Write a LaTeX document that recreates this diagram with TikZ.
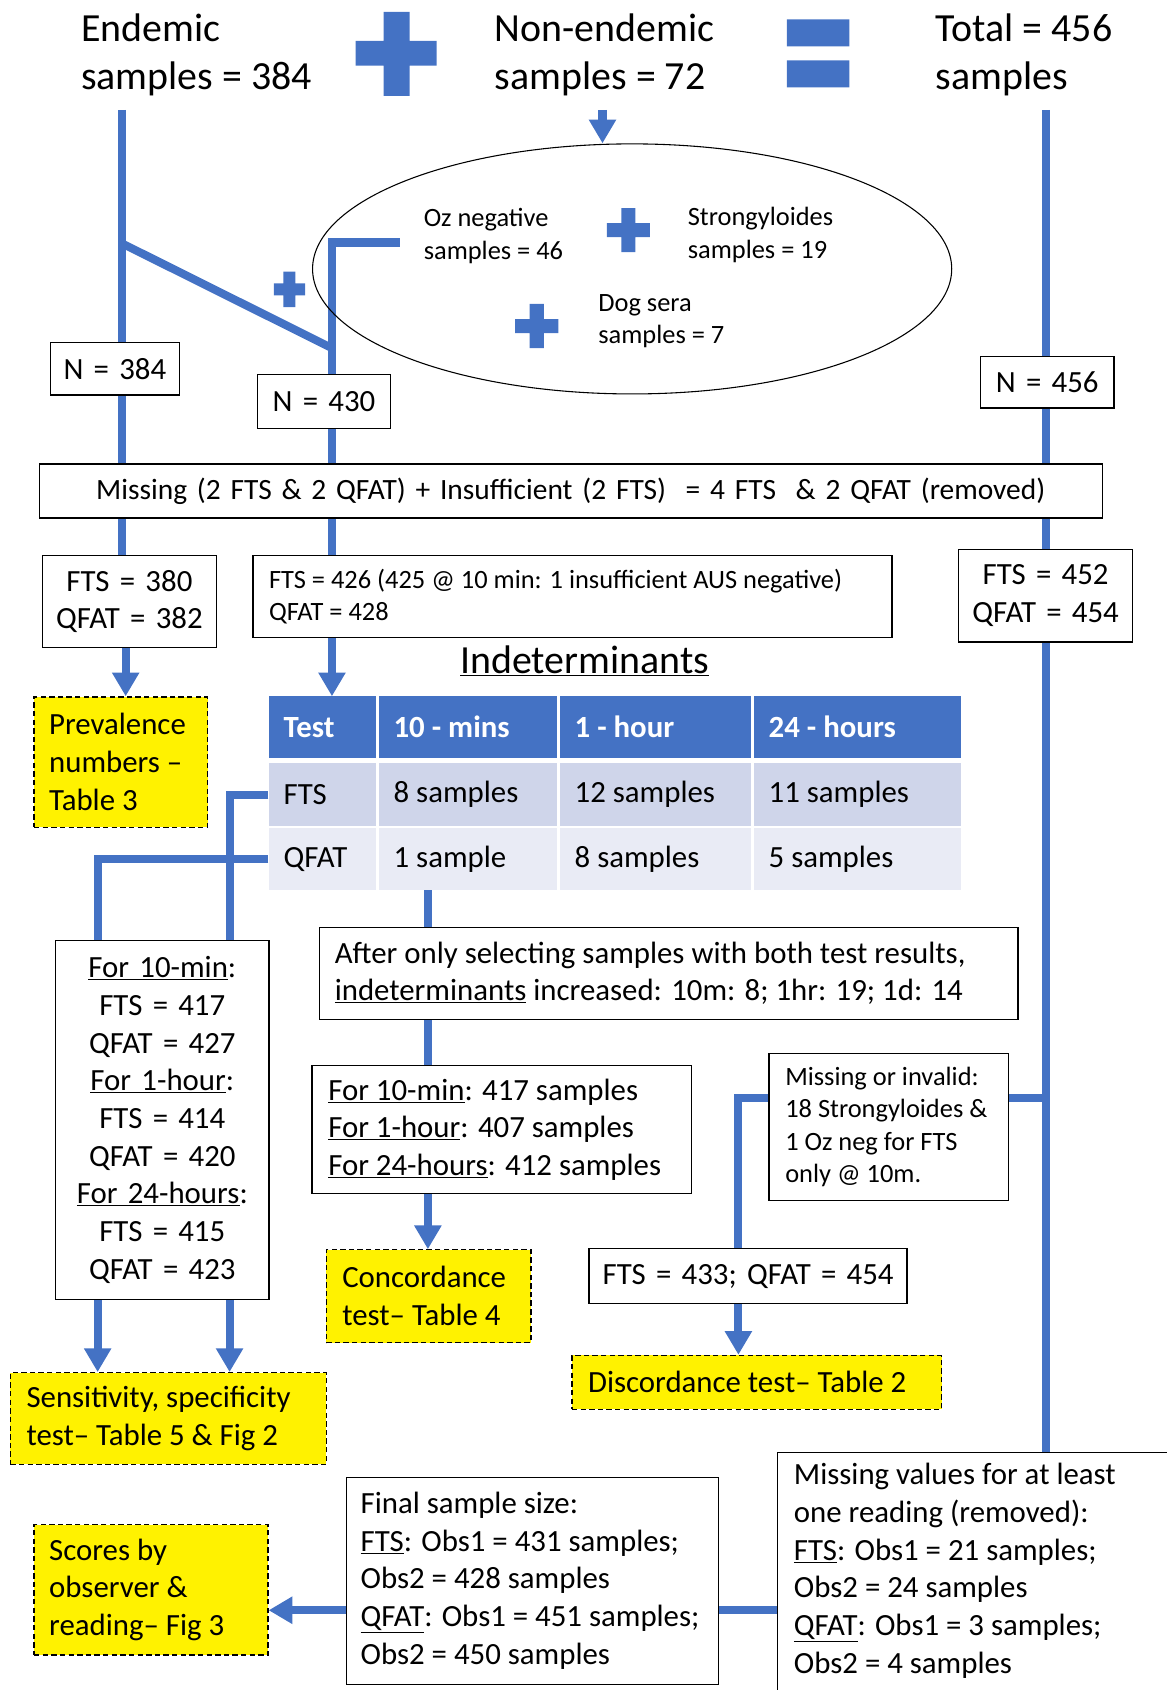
\documentclass[tikz,border=0pt]{standalone}
\usepackage{fontspec}
\setmainfont{Carlito}
\usetikzlibrary{arrows.meta,shapes.geometric,backgrounds}

\definecolor{linkblue}{RGB}{68,114,196}
\definecolor{rowdark}{RGB}{207,213,234}
\definecolor{rowlight}{RGB}{233,235,245}

\newcommand{\hdfont}{\fontsize{37}{45}\selectfont}
\newcommand{\txfont}{\fontsize{28.6}{35}\selectfont}
\newcommand{\smfont}{\fontsize{24.5}{30}\selectfont}

\tikzset{
  link/.style={draw=linkblue, line width=7.5pt},
  arr/.style={link, ->},
  box/.style={draw=black, line width=1.2pt, fill=white, anchor=north west,
    inner xsep=8pt, inner ysep=0pt, align=center},
  note/.style={box, align=flush left},
  result/.style={note, fill=yellow, dash pattern=on 5pt off 3pt},
  plain/.style={anchor=west, inner sep=0pt, align=left},
  cell/.style={anchor=north west, inner xsep=14pt, inner ysep=0pt,
    align=flush left, minimum height=58pt},
  headcell/.style={cell, fill=linkblue, text=white, font=\txfont\bfseries,
    minimum height=57pt},
}

\begin{document}
\begin{tikzpicture}[x=1pt, y=-1pt, font=\txfont, line join=miter, >={Triangle[width=24pt,length=22pt]}]
	\useasboundingbox (0,0) rectangle (1082,1568);
	% top line
	\node[plain, font=\hdfont] (endem) at (75,51) {Endemic\\samples = 384};
	\node[plain, font=\hdfont] (nonend) at (459,51) {Non-endemic\\samples = 72};
	\node[plain, font=\hdfont] (total) at (868,51) {Total = 456\\samples};
	\fill[linkblue] (356,11) rectangle (380,89) (330,38) rectangle (405,61);
	\fill[linkblue] (730,18) rectangle (788,43) (730,56) rectangle (788,81);
	% non-endemic samples
	\node[draw, ellipse, line width=1pt, minimum width=593pt, minimum height=232pt, inner sep=0pt] (nonset) at (586.5,249.5) {};
	\node[plain, font=\smfont] (ozneg) at (393,219) {Oz negative\\samples = 46};
	\node[plain, font=\smfont] (strongy) at (638,218) {Strongyloides\\samples = 19};
	\node[plain, font=\smfont] (dogsera) at (555,298) {Dog sera\\samples = 7};
	\fill[linkblue] (576.5,193) rectangle (589.5,234) (563,207) rectangle (603,220);
	\fill[linkblue] (491.5,282) rectangle (504.5,323) (478,296) rectangle (518,309);
	\fill[linkblue] (263,252) rectangle (274,285) (254,263) rectangle (283,274);
	% counts
	\node[box, text width=104pt, minimum height=49pt] (n384) at (46,317) {N = 384};
	\node[box, text width=108pt, minimum height=50pt] (n430) at (238,347) {N = 430};
	\node[box, text width=108pt, minimum height=48pt] (n456) at (909,330) {N = 456};
	\node[box, font=\fontsize{27.3}{35}\selectfont, text width=970pt, minimum height=50pt] (miss) at (36,430)
		{Missing (2 FTS \& 2 QFAT) + Insufficient (2 FTS)\ \ = 4 FTS\ \ \& 2 QFAT (removed)};
	\node[box, text width=145pt, minimum height=85pt] (fts380) at (39,515) {FTS = 380\\QFAT = 382};
	\node[note, font=\smfont, inner xsep=15pt, text width=563pt, minimum height=76pt] (fts426) at (234,515)
		{FTS = 426 (425 @ 10 min: 1 insufficient AUS negative)\\QFAT = 428};
	\node[box, text width=145pt, minimum height=86pt] (fts452) at (889,509) {FTS = 452\\QFAT = 454};
	\node[result, inner xsep=14pt, text width=133pt, minimum height=121pt] (prev) at (31,646)
		{Prevalence\\numbers --\\Table 3};
	% indeterminants
	\node[anchor=base, inner sep=0pt, font=\hdfont] (indet) at (542.5,625) {\underline{Indeterminants}};
	\node[headcell, text width=72pt] (thtest) at (249,646) {Test};
	\node[headcell, text width=138pt] (th10) at (351,646) {10 - mins};
	\node[headcell, text width=150pt] (th1h) at (519,646) {1 - hour};
	\node[headcell, text width=164pt] (th24) at (699,646) {24 - hours};
	\node[cell, fill=rowdark, text width=72pt] (fts) at (249,708) {FTS};
	\node[cell, fill=rowdark, text width=138pt] (f10) at (351,708) {8 samples};
	\node[cell, fill=rowdark, text width=150pt] (f1h) at (519,708) {12 samples};
	\node[cell, fill=rowdark, text width=164pt] (f24) at (699,708) {11 samples};
	\node[cell, fill=rowlight, text width=72pt] (qfat) at (249,768) {QFAT};
	\node[cell, fill=rowlight, text width=138pt] (q10) at (351,768) {1 sample};
	\node[cell, fill=rowlight, text width=150pt] (q1h) at (519,768) {8 samples};
	\node[cell, fill=rowlight, text width=164pt] (q24) at (699,768) {5 samples};
	% lower boxes
	\node[box, text width=182pt, minimum height=333pt] (forl) at (51,872)
		{\underline{For 10-min}:\\FTS = 417\\QFAT = 427\\\underline{For 1-hour}:\\FTS = 414\\QFAT = 420\\\underline{For 24-hours}:\\FTS = 415\\QFAT = 423};
	\node[result, inner xsep=15pt, text width=263pt, minimum height=85pt] (sens) at (9,1273)
		{Sensitivity, specificity\\test-- Table 5 \& Fig 2};
	\node[note, inner xsep=14pt, text width=620pt, minimum height=85pt] (after) at (296,860)
		{After only selecting samples with both test results,\\\underline{indeterminants} increased: 10m: 8; 1hr: 19; 1d: 14};
	\node[note, inner xsep=15pt, text width=322pt, minimum height=119pt] (formid) at (289,988)
		{\underline{For 10-min}: 417 samples\\\underline{For 1-hour}: 407 samples\\\underline{For 24-hours}: 412 samples};
	\node[result, inner xsep=15pt, text width=160pt, minimum height=86pt] (conc) at (302,1159)
		{Concordance\\test-- Table 4};
	\node[note, font=\smfont, inner xsep=15pt, text width=192pt, minimum height=136pt] (minv) at (713,977)
		{Missing or invalid:\\18 Strongyloides \&\\1 Oz neg for FTS\\only @ 10m.};
	\node[box, text width=279pt, minimum height=51pt] (fts433) at (546,1158) {FTS = 433; QFAT = 454};
	\node[result, inner xsep=15pt, text width=313pt, minimum height=50pt] (disc) at (530,1257)
		{Discordance test-- Table 2};
	\node[note, inner xsep=15pt, inner ysep=10pt, text width=370pt] (mval) at (721,1347)
		{Missing values for at least\\one reading (removed):\\\underline{FTS}: Obs1 = 21 samples;\\Obs2 = 24 samples\\\underline{QFAT}: Obs1 = 3 samples;\\Obs2 = 4 samples\rule[-40pt]{0pt}{0pt}};
	\node[note, inner xsep=13pt, text width=319pt, minimum height=192pt] (final) at (321,1370)
		{Final sample size:\\\underline{FTS}: Obs1 = 431 samples;\\Obs2 = 428 samples\\\underline{QFAT}: Obs1 = 451 samples;\\Obs2 = 450 samples};
	\node[result, inner xsep=14pt, text width=189pt, minimum height=121pt] (scores) at (31,1414)
		{Scores by\\observer \&\\reading-- Fig 3};
	% connectors
	\begin{pgfonlayer}{background}
		\coordinate (endtop) at (113.5,102);
		\coordinate (split) at (113.5,226);
		\coordinate (join) at (308,323);
		\coordinate (ozfoot) at (371,225);
		\coordinate (nontail) at (559,102);
		\coordinate (tottop) at (970.5,102);
		\coordinate (tabfoot) at (397,826);
		\coordinate (lowy) at (0,1494);
		\draw[link] (endtop) -- (endtop |- fts380.north);
		\draw[link] (split) -- (join);
		\draw[link] (ozfoot) -| (join |- fts426.north);
		\draw[arr] (nontail) -- (nontail |- nonset.north);
		\draw[arr] ([xshift=-3.5pt]fts380.south) -- ([xshift=-3.5pt]fts380.south |- prev.north);
		\draw[arr] (join |- fts426.south) -- (join |- thtest.north);
		\draw[link] (fts.west) -| ([xshift=62.4pt]forl.north);
		\draw[link] (qfat.west) -| ([xshift=-60pt]forl.north);
		\draw[arr] ([xshift=62.4pt]forl.south) -- ([xshift=62.4pt]forl.south |- sens.north);
		\draw[arr] ([xshift=-60pt]forl.south) -- ([xshift=-60pt]forl.south |- sens.north);
		\draw[link] (tabfoot) -- (tabfoot |- after.north);
		\draw[link] (tabfoot |- after.south) -- (tabfoot |- formid.north);
		\draw[arr] (tabfoot |- formid.south) -- (tabfoot |- conc.north);
		\draw[link] (tottop) -- (tottop |- mval.north);
		\draw[link] ([yshift=26.5pt]minv.east) -- ([yshift=26.5pt]minv.east -| tottop);
		\draw[link] ([yshift=26.5pt]minv.west) -| ([xshift=-9pt]fts433.north);
		\draw[arr] ([xshift=-9pt]fts433.south) -- ([xshift=-9pt]fts433.south |- disc.north);
		\draw[link] (final.east |- lowy) -- (mval.west |- lowy);
		\draw[arr] (final.west |- lowy) -- (scores.east |- lowy);
	\end{pgfonlayer}
\end{tikzpicture}
\end{document}
